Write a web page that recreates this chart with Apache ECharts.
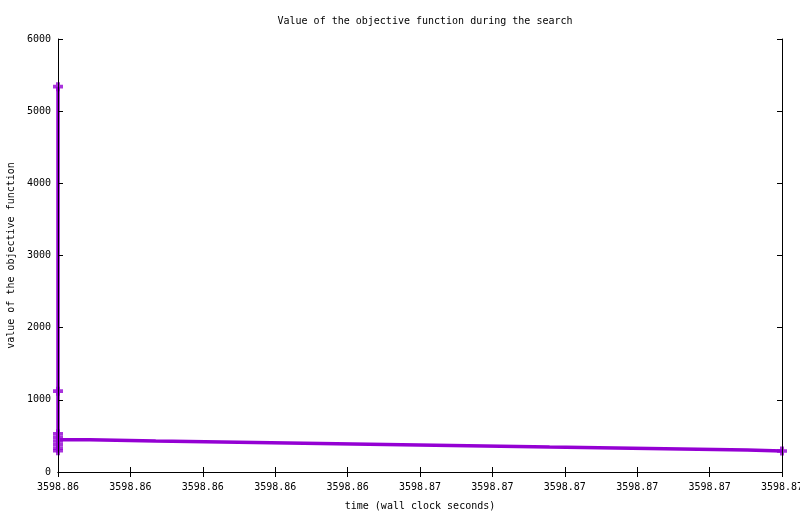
<!DOCTYPE html>
<html>
<head>
<meta charset="utf-8">
<script src="https://cdn.jsdelivr.net/npm/echarts@6/dist/echarts.min.js"></script>
<style>html,body{margin:0;padding:0;background:#fff;}#c{width:800px;height:514px;}</style>
</head>
<body>
<div id="c"></div>
<script>
// step path of the objective value over time
const stepTimes = [3598.86, 3598.86, 3598.86, 3598.86, 3598.86, 3598.86, 3598.86, 3598.86, 3598.86,
  3598.86044, 3598.86135, 3598.86226, 3598.86317, 3598.86407, 3598.86498,
  3598.86589, 3598.86679, 3598.86770, 3598.86861, 3598.86952, 3598.87];
const stepValues = [5340, 1120, 530, 480, 430, 380, 330, 295, 448,
  430, 416, 402, 388, 374, 360, 346, 333, 319, 305, 291, 291];
// points marked with "+"
const markTimes = [3598.86, 3598.86, 3598.86, 3598.86, 3598.86, 3598.86, 3598.86, 3598.86, 3598.87];
const markValues = [5340, 1120, 530, 480, 430, 380, 330, 295, 291];
// tick labels of the time axis
const xTickLabels = ["3598.86", "3598.86", "3598.86", "3598.86", "3598.86",
  "3598.87", "3598.87", "3598.87", "3598.87", "3598.87", "3598.87"];
const xMin = 3598.86, xMax = 3598.87, xStep = 0.001;

const FONT = 'DejaVu Sans Mono';
const COLOR = '#9400d3';
const chart = echarts.init(document.getElementById('c'), null, {renderer: 'canvas'});
const plusPath = 'path://M0,3H10V7H0Z M3,0H7V10H3Z';
const axisCommon = {
  axisLine: {show: true, lineStyle: {color: '#000', width: 1}},
  axisTick: {show: true, inside: true, length: 5, lineStyle: {color: '#000', width: 1}},
  splitLine: {show: false},
  z: 10
};
chart.setOption({
  animation: false,
  backgroundColor: '#fff',
  textStyle: {fontFamily: FONT},
  title: {
    text: 'Value of the objective function during the search',
    left: 420, top: 11, textAlign: 'center',
    textStyle: {fontFamily: FONT, fontSize: 10, fontWeight: 'normal', color: '#000'}
  },
  grid: {left: 58, right: 18, top: 39, bottom: 42, containLabel: false, outerBoundsMode: 'none'},
  xAxis: [
    Object.assign({
      type: 'value', position: 'bottom', min: xMin, max: xMax, interval: xStep,
      name: 'time (wall clock seconds)', nameLocation: 'middle', nameGap: 29,
      nameTextStyle: {fontFamily: FONT, fontSize: 10, color: '#000'},
      axisLabel: {
        fontFamily: FONT, fontSize: 10, color: '#000', margin: 10,
        formatter: function (v) { return xTickLabels[Math.round((v - xMin) / xStep)]; }
      }
    }, axisCommon),
    Object.assign({
      type: 'value', position: 'top', min: xMin, max: xMax, interval: xStep,
      axisLabel: {show: false}
    }, axisCommon)
  ],
  yAxis: [
    Object.assign({
      type: 'value', position: 'left', min: 0, max: 6000, interval: 1000,
      name: 'value of the objective function', nameLocation: 'middle', nameGap: 41,
      nameTextStyle: {fontFamily: FONT, fontSize: 10, color: '#000'},
      axisLabel: {fontFamily: FONT, fontSize: 10, color: '#000', margin: 7,
        formatter: function (v) { return String(v); }}
    }, axisCommon),
    Object.assign({
      type: 'value', position: 'right', min: 0, max: 6000, interval: 1000,
      axisLabel: {show: false}
    }, axisCommon)
  ],
  series: [
    {
      type: 'line', step: 'end', clip: false, showSymbol: false, z: 2,
      data: stepTimes.map((t, i) => [t, stepValues[i]]),
      lineStyle: {color: COLOR, width: 3.5}
    },
    {
      type: 'scatter', clip: false, z: 3,
      symbol: plusPath, symbolSize: [10, 9],
      itemStyle: {color: COLOR},
      data: markTimes.map((t, i) => [t, markValues[i]])
    }
  ]
});
</script>
</body>
</html>
